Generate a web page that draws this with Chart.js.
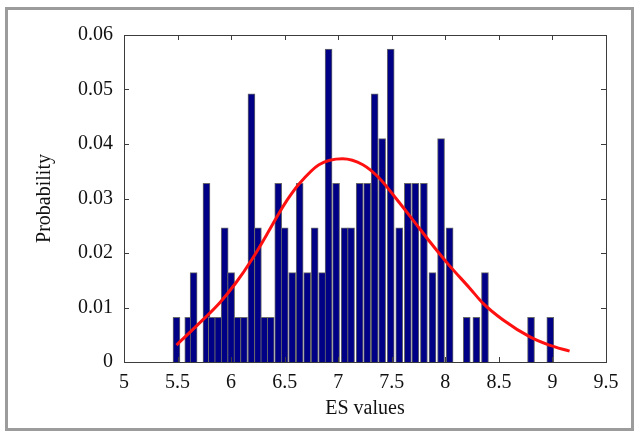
<!DOCTYPE html>
<html>
<head>
<meta charset="utf-8">
<title>ES values histogram</title>
<script src="https://cdn.jsdelivr.net/npm/chart.js@4.4.1/dist/chart.umd.min.js"></script>
<style>
  html, body { margin: 0; padding: 0; background: #fff; }
  canvas { display: block; }
</style>
</head>
<body>
<canvas id="esChart" width="638" height="434"></canvas>
<script>
// bar centres
const binCenters = [5.49, 5.60, 5.65, 5.77, 5.82, 5.88, 5.94, 6.00, 6.06, 6.12,
  6.19, 6.25, 6.31, 6.37, 6.44, 6.50, 6.57, 6.64, 6.71, 6.78,
  6.85, 6.91, 6.98, 7.06, 7.12, 7.20, 7.27, 7.34, 7.41, 7.49,
  7.57, 7.65, 7.72, 7.80, 7.88, 7.96, 8.04, 8.20, 8.29, 8.37,
  8.80, 8.98];
const probabilities = [0.0082, 0.0082, 0.0164, 0.0328, 0.0082, 0.0082, 0.0246, 0.0164, 0.0082, 0.0082,
  0.0492, 0.0246, 0.0082, 0.0082, 0.0328, 0.0246, 0.0164, 0.0328, 0.0164, 0.0246,
  0.0164, 0.0574, 0.0328, 0.0246, 0.0246, 0.0328, 0.0328, 0.0492, 0.0410, 0.0574,
  0.0246, 0.0328, 0.0328, 0.0328, 0.0164, 0.0410, 0.0246, 0.0082, 0.0082, 0.0164,
  0.0082, 0.0082];

// red fitted curve
const fitX = [5.49, 5.67, 5.89, 6.04, 6.20, 6.36, 6.45, 6.54, 6.64, 6.82, 7.04, 7.23,
  7.38, 7.54, 7.70, 7.85, 8.02, 8.23, 8.35, 8.54, 8.79, 8.97, 9.16];
const fitY = [0.0031, 0.0065, 0.0108, 0.0144, 0.0190, 0.0243, 0.0274, 0.0302, 0.0328, 0.0362, 0.0373, 0.0362,
  0.0338, 0.0300, 0.0260, 0.0222, 0.0181, 0.0135, 0.0108, 0.0077, 0.0046, 0.0031, 0.0020];

const xTicks = [5, 5.5, 6, 6.5, 7, 7.5, 8, 8.5, 9, 9.5];
const yTicks = [0, 0.01, 0.02, 0.03, 0.04, 0.05, 0.06];

const serif = "'Liberation Serif', 'Times New Roman', serif";

const histData = binCenters.map((x, i) => ({ x: x, y: probabilities[i] }));
const fitData = fitX.map((x, i) => ({ x: x, y: fitY[i] }));

const config = {
  type: "bar",
  data: {
    datasets: [
      {
        type: "line",
        label: "Fit",
        data: fitData,
        borderColor: "#ff1010",
        borderWidth: 3,
        pointRadius: 0,
        cubicInterpolationMode: "monotone",
        fill: false,
        order: 0,
      },
      {
        label: "Histogram",
        data: histData,
        backgroundColor: "#000086",
        borderColor: "#6a6a6a",
        borderWidth: 1,
        barThickness: 7,
        order: 1,
      },
    ],
  },
  plugins: [
    {
      id: "frame",
      beforeDraw: (chart) => {
        const ctx = chart.ctx;
        ctx.save();
        ctx.fillStyle = "#ffffff";
        ctx.fillRect(0, 0, chart.width, chart.height);
        ctx.strokeStyle = "#9c9c9c";
        ctx.lineWidth = 3;
        ctx.strokeRect(6.5, 8.5, 626, 421);
        ctx.restore();
      },
    },
    {
      id: "boxTicks",
      afterDatasetsDraw: (chart) => {
        const ctx = chart.ctx;
        const a = chart.chartArea;
        const xs = chart.scales.x;
        const ys = chart.scales.y;
        const len = 5;
        ctx.save();
        ctx.strokeStyle = "#3c3c3c";
        ctx.lineWidth = 1;
        ctx.beginPath();
        xTicks.forEach((t) => {
          const px = Math.round(xs.getPixelForValue(t)) + 0.5;
          ctx.moveTo(px, a.bottom);
          ctx.lineTo(px, a.bottom - len);
          ctx.moveTo(px, a.top);
          ctx.lineTo(px, a.top + len);
        });
        yTicks.forEach((t) => {
          const py = Math.round(ys.getPixelForValue(t)) + 0.5;
          ctx.moveTo(a.left, py);
          ctx.lineTo(a.left + len, py);
          ctx.moveTo(a.right, py);
          ctx.lineTo(a.right - len, py);
        });
        ctx.stroke();
        ctx.strokeRect(Math.round(a.left) + 0.5, Math.round(a.top) + 0.5,
          Math.round(a.right - a.left), Math.round(a.bottom - a.top));
        ctx.restore();
      },
    },
  ],
  options: {
    responsive: false,
    animation: false,
    layout: {
      padding: { left: 0, top: 35, right: 32, bottom: 0 },
    },
    scales: {
      x: {
        type: "linear",
        min: 5,
        max: 9.5,
        offset: false,
        afterFit: (scale) => { scale.height = 72; },
        afterBuildTicks: (scale) => { scale.ticks = xTicks.map((v) => ({ value: v })); },
        grid: { display: false, drawTicks: false },
        border: { display: false },
        ticks: {
          padding: 9,
          color: "#111",
          font: { family: serif, size: 20 },
          callback: (v) => String(v),
        },
        title: {
          display: true,
          text: "ES values",
          color: "#111",
          font: { family: serif, size: 20 },
          padding: { top: 0, bottom: 13 },
        },
      },
      y: {
        min: 0,
        max: 0.06,
        afterFit: (scale) => { scale.width = 124; },
        afterBuildTicks: (scale) => { scale.ticks = yTicks.map((v) => ({ value: v })); },
        grid: { display: false, drawTicks: false },
        border: { display: false },
        ticks: {
          padding: 11,
          color: "#111",
          font: { family: serif, size: 20 },
          callback: (v) => String(Math.round(v * 100) / 100),
        },
        title: {
          display: true,
          text: "Probability",
          color: "#111",
          font: { family: serif, size: 20 },
          padding: { top: 33, bottom: 0 },
        },
      },
    },
    plugins: {
      legend: { display: false },
      tooltip: { enabled: false },
    },
  },
};

const esChart = new Chart(document.getElementById("esChart"), config);
</script>
</body>
</html>
